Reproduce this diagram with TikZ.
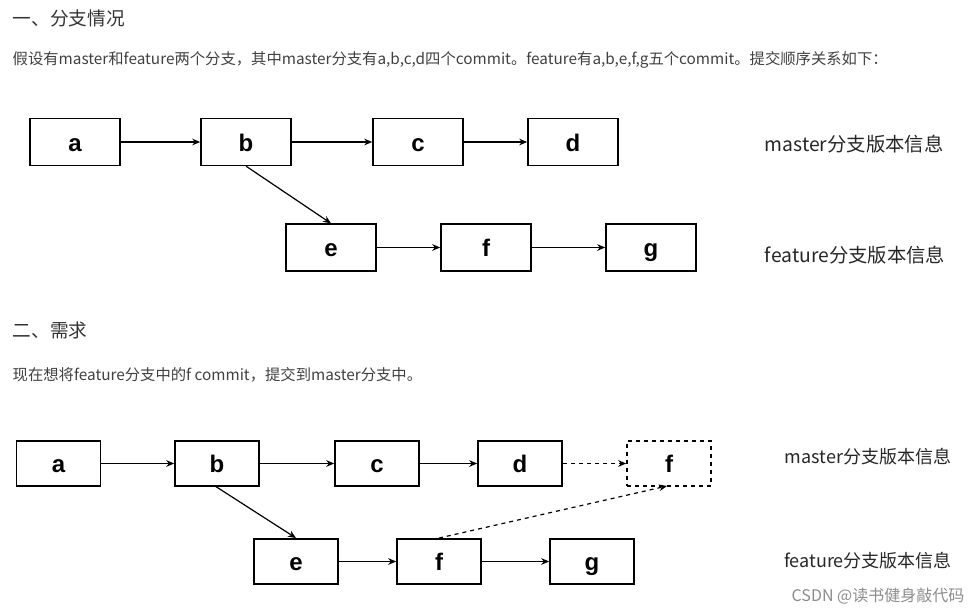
\documentclass[tikz,border=0pt]{standalone}
\usepackage{fontspec}
\setmainfont{Noto Sans CJK SC}
\newfontfamily\lat{Liberation Sans}
\usetikzlibrary{arrows.meta}
\begin{document}
\begin{tikzpicture}[x=0.75pt,y=-0.75pt,
  bx/.style={draw,line width=1.2pt,minimum width=67.5pt,minimum height=35pt,inner sep=0pt,text height=14pt,text depth=0pt,font=\lat\bfseries\fontsize{18}{18}\selectfont},
  bx2/.style={bx,minimum width=63pt,minimum height=34pt},
  ar/.style={-{Stealth[length=6pt,width=5pt]},line width=0.9pt},
  lab/.style={anchor=center,font=\fontsize{14.5}{15}\selectfont,text=black!85},
  lab2/.style={lab,font=\fontsize{13.5}{14}\selectfont},
  hd/.style={anchor=west,font=\fontsize{14}{16}\selectfont,text=black!80},
  tx/.style={anchor=west,font=\fontsize{11.5}{12}\selectfont,text=black!75}]
\useasboundingbox (0,0) rectangle (972,615);
\node[hd] (h1) at (8,18) {一、分支情况};
\node[tx] (t1) at (8,60) {假设有master和feature两个分支，其中master分支有a,b,c,d四个commit。feature有a,b,e,f,g五个commit。提交顺序关系如下：};
\node[bx] (a) at (75,142) {a};
\node[bx] (b) at (246,142) {b};
\node[bx] (c) at (418,142) {c};
\node[bx] (d) at (573,142) {d};
\node[bx] (e) at (331,247.5) {e};
\node[bx] (f) at (486,247.5) {f};
\node[bx] (g) at (651,247.5) {g};
\draw[ar] (a) -- (b);
\draw[ar] (b) -- (c);
\draw[ar] (c) -- (d);
\draw[ar] (e) -- (f);
\draw[ar] (f) -- (g);
\draw[ar] (b.south) -- (e.north);
\node[lab] (m1) at (854,144) {master分支版本信息};
\node[lab] (f1) at (855,255) {feature分支版本信息};
\node[hd] (h2) at (8,330) {二、需求};
\node[tx] (t2) at (8,375) {现在想将feature分支中的f commit，提交到master分支中。};
\node[bx2] (a2) at (58.5,463.5) {a};
\node[bx2] (b2) at (217,463.5) {b};
\node[bx2] (c2) at (377,463.5) {c};
\node[bx2] (d2) at (520,463.5) {d};
\node[bx2,dashed] (x2) at (669,463.5) {f};
\node[bx2] (e2) at (296,561.5) {e};
\node[bx2] (f2) at (439,561.5) {f};
\node[bx2] (g2) at (592,561.5) {g};
\draw[ar] (a2) -- (b2);
\draw[ar] (b2) -- (c2);
\draw[ar] (c2) -- (d2);
\draw[ar,dashed] (d2) -- (x2);
\draw[ar] (e2) -- (f2);
\draw[ar] (f2) -- (g2);
\draw[ar] (215,486) -- (e2.north);
\draw[ar,dashed] (f2.north) -- (667,486);
\node[lab2] (m2) at (868,457) {master分支版本信息};
\node[lab2] (f2l) at (868,561) {feature分支版本信息};
\node[anchor=center,font=\fontsize{12}{12}\selectfont,text=black!45] (w) at (878,596) {CSDN @读书健身敲代码};
\end{tikzpicture}
\end{document}
